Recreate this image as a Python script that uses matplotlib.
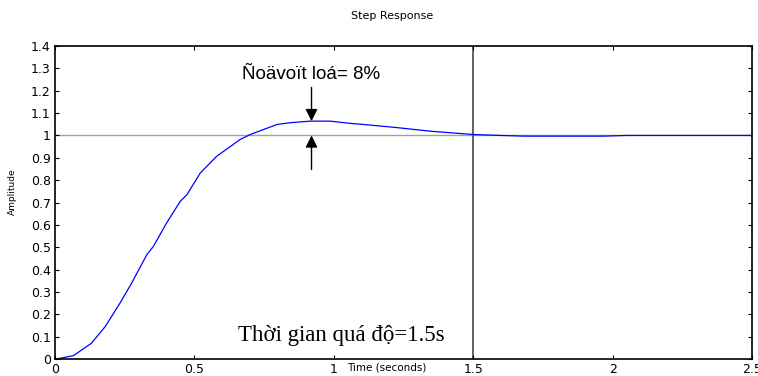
import matplotlib.pyplot as plt

# step response, values
t = [0, 0.004, 0.066, 0.13, 0.18, 0.233, 0.275, 0.329, 0.353, 0.40, 0.449, 0.473,
     0.521, 0.58, 0.664, 0.70, 0.796, 0.844, 0.916, 0.987, 1.059, 1.107, 1.227,
     1.346, 1.502, 1.60, 1.68, 1.97, 2.05, 2.5]
y = [0, 0, 0.015, 0.07, 0.145, 0.25, 0.34, 0.466, 0.504, 0.608, 0.705, 0.735,
     0.832, 0.907, 0.982, 1.004, 1.049, 1.057, 1.064, 1.064, 1.054, 1.049, 1.035,
     1.019, 1.004, 1.0, 0.997, 0.997, 1.0, 1.0]

x_ticks = [0, 0.5, 1, 1.5, 2, 2.5]
x_labels = ['0', '0.5', '1', '1.5', '2', '2.5']
y_ticks = [0, 0.1, 0.2, 0.3, 0.4, 0.5, 0.6, 0.7, 0.8, 0.9, 1, 1.1, 1.2, 1.3, 1.4]
y_labels = ['0', '0.1', '0.2', '0.3', '0.4', '0.5', '0.6', '0.7', '0.8', '0.9',
            '1', '1.1', '1.2', '1.3', '1.4']

t_settle = 1.5
t_peak = 0.92
y_peak = 1.064

plt.rcParams['font.family'] = ['DejaVu Sans']

fig = plt.figure(figsize=(7.58, 3.76), dpi=100)
ax = fig.add_axes([0.0726, 0.0452, 0.9195, 0.8324])

ax.axhline(1, color='#a0a0a0', lw=1, zorder=1)
ax.axvline(t_settle, color='#555555', lw=1.3, zorder=1)
ax.plot(t, y, color='#0000ff', lw=0.9, zorder=2)

# overshoot arrows
ax.annotate('', xy=(t_peak, y_peak), xytext=(t_peak, 1.215),
            arrowprops=dict(arrowstyle='-|>', color='black', lw=1, mutation_scale=18,
                            shrinkA=0, shrinkB=0))
ax.annotate('', xy=(t_peak, 1.0), xytext=(t_peak, 0.848),
            arrowprops=dict(arrowstyle='-|>', color='black', lw=1, mutation_scale=18,
                            shrinkA=0, shrinkB=0))
ax.text(t_peak, 1.274, 'Ñoävoït loá= 8%', ha='center', va='center', fontsize=13.5,
        family=['Liberation Sans', 'DejaVu Sans'])
ax.text(0.657, 0.103, 'Thời gian quá độ=1.5s', ha='left', va='center', fontsize=16.5,
        family=['Liberation Serif', 'DejaVu Serif'])

ax.set_xlim(0, 2.5)
ax.set_ylim(0, 1.4)
ax.set_xticks(x_ticks)
ax.set_xticklabels(x_labels)
ax.set_yticks(y_ticks)
ax.set_yticklabels(y_labels)
ax.tick_params(direction='in', length=3, top=True, right=True, labelsize=9, pad=3,
               width=0.8)
for s in ax.spines.values():
    s.set_linewidth(1.2)

ax.set_xlabel('Time (seconds)', fontsize=7.5)
ax.xaxis.set_label_coords(0.476, -0.012)
ax.xaxis.label.set_va('top')
ax.set_ylabel('Amplitude', fontsize=6.5)
ax.yaxis.set_label_coords(-0.055, 0.534)

fig.text(392 / 758, 1 - 16 / 376, 'Step Response', ha='center', va='center', fontsize=8)

fig.savefig('out.png', dpi=100)
